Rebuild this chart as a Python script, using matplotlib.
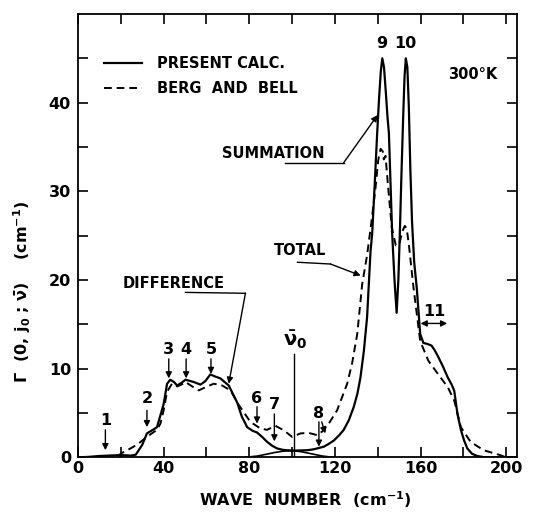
#!/usr/bin/env python3
"""Line-width function Gamma(0, j0; nu) vs wave number, 300 K."""

import matplotlib

matplotlib.use("Agg")
import matplotlib.pyplot as plt

# present calculation (solid)
calc_x = [0, 5, 10, 15, 20, 25, 27, 30, 32.2, 35, 36.9, 40.0, 41.6, 43.1, 44.8,
          46.3, 48.3, 50.2, 54.0, 57.2, 59.5, 61.8, 64.2, 66.5, 70.4, 74.3,
          76.5, 79.0, 81.5, 83.6, 86, 88.3, 90.7, 93.0, 95.5, 97.7, 100.8,
          104, 107, 109.5, 111.7, 114.8, 117, 119.5, 122, 124.1, 126.5, 128.8,
          130.5, 131.9, 133.5, 135.0,
          136.6, 137.4, 138.6, 139.7, 140.6, 141.4, 142.1, 142.9, 143.8, 144.5,
          145.2, 146.0, 146.7, 147.8, 148.8,
          149.6, 150.3, 151.0, 151.8, 152.5, 153.1, 153.8, 154.5, 155.2, 156.0,
          157.0, 158.2, 159.8, 161.3, 163.0, 165.1, 166.5, 168.1, 170.5, 172.7,
          174.5, 175.7, 177.2, 178.8, 180.3, 181.8, 184.0, 186.4, 190, 200]
calc_y = [0, 0.05, 0.15, 0.2, 0.25, 0.2, 0.3, 1.4, 2.7, 3.1, 3.4, 6.0, 8.3,
          8.75, 8.5, 8.1, 8.4, 8.75, 8.5, 8.2, 8.6, 9.35, 9.1, 8.9, 8.1, 6.2,
          4.6, 3.4, 3.0, 2.8, 2.3, 1.75, 1.3, 1.0, 0.85, 0.8, 0.75, 0.78, 0.8,
          0.88, 1.0, 1.2, 1.5, 1.9, 2.5, 3.1, 4.2, 5.7, 7.2, 9.0, 12.0, 15.8,
          23.2, 25.3, 31.0, 36.5, 40.5, 43.5, 45.0, 44.0, 41.0, 38.5,
          36.5, 30.5, 25.3, 20.0, 16.3,
          20.0, 25.3, 31.5, 38.0, 43.0, 45.0, 44.0, 39.5, 32.5, 26.5,
          22.0, 19.1, 13.9, 12.9, 12.8, 12.6, 12.1, 11.4, 10.2, 9.0,
          8.2, 7.5, 4.9, 3.1, 1.9, 1.0, 0.4, 0.15, 0, 0]

# Berg and Bell (dashed)
berg_x = [19.8, 19.8, 23, 26.0, 29, 32.2, 34.5, 36.9, 38.5, 40.0, 41.6, 43.9,
          46.3, 48.3, 50.2, 53.3, 56.4, 59.5, 63.4, 67.3, 71.2, 75.1, 80.5,
          85.2, 88.3, 92.2, 96.1, 100.0, 103.9, 107.8, 111.7, 114.0, 117.1,
          121.0, 125.7, 128, 130.4, 132.7, 135.0, 137.0, 138.9, 140.2, 141.3,
          142.3, 142.8, 143.6, 145.0, 146.5, 148.4, 150.0, 151.5, 152.6, 153.5,
          154.5, 156.7, 159.8, 163.6, 168.1, 172.7, 175.7, 178.8, 183.3, 189.4,
          197.0, 200]
berg_y = [0.0, 0.4, 0.8, 1.2, 1.7, 2.3, 2.7, 3.1, 3.8, 5.3, 7.4, 8.3, 8.0,
          8.2, 8.5, 8.0, 7.55, 7.9, 8.3, 8.1, 7.55, 5.9, 4.0, 3.25, 3.1, 3.55,
          3.05, 2.3, 2.7, 2.75, 2.5, 2.9, 3.8, 5.3, 8.3, 10.6, 13.9, 19.5, 22.8,
          26.5, 30.3, 33.5, 34.8, 34.5, 33.6, 34.0, 30.0, 26.0, 23.9, 24.0, 25.5,
          26.1, 25.8, 24.0, 19.1, 13.1, 10.9, 9.4, 7.9, 6.4, 3.4, 1.75, 0.8,
          0.26, 0]

# low component tails near nu_0 (thin solid)
sum_tail_x = [78, 84, 88, 92, 96, 100.8]
sum_tail_y = [0, 0.15, 0.35, 0.55, 0.7, 0.75]
diff_tail_x = [100.8, 105, 110, 114, 118, 120]
diff_tail_y = [0.75, 0.6, 0.35, 0.15, 0.03, 0]

NU0 = 100.8

# peak labels: (text, x, y text, arrow top, arrow tip)
peak_labels = [("1", 12.8, 4.2, 3.1, 0.8),
               ("2", 32.2, 6.6, 5.3, 3.4),
               ("3", 42.4, 12.2, 11.1, 8.9),
               ("4", 50.5, 12.2, 11.1, 8.9),
               ("5", 62.1, 12.2, 11.1, 9.4),
               ("6", 83.6, 6.6, 5.7, 3.8),
               ("7", 91.7, 6.0, 4.9, 1.8),
               ("8", 112.5, 4.9, 4.0, 1.2)]

FS = 10.5


def main() -> None:
    plt.rcParams["font.family"] = ["DejaVu Sans"]
    plt.rcParams["font.weight"] = "bold"
    plt.rcParams["mathtext.default"] = "bf"
    fig = plt.figure(figsize=(5.43, 5.12), dpi=100)
    ax = fig.add_axes([0.1436, 0.1068, 0.8085, 0.8659])

    ax.plot(calc_x, calc_y, "-", color="black", lw=1.6, label="PRESENT CALC.")
    ax.plot(berg_x, berg_y, color="black", lw=1.4, dashes=(4, 2.5),
            label="BERG  AND  BELL")
    ax.plot(sum_tail_x, sum_tail_y, "-", color="black", lw=1.2)
    ax.plot(diff_tail_x, diff_tail_y, "-", color="black", lw=1.2)

    ax.set_xlim(0, 205)
    ax.set_ylim(0, 50)
    ax.set_xticks(range(0, 201, 20))
    ax.set_xticklabels([str(v) if v % 40 == 0 else "" for v in range(0, 201, 20)])
    ax.set_yticks(range(0, 46, 5))
    ax.set_yticklabels([str(v) if v % 10 == 0 else "" for v in range(0, 46, 5)])
    ax.tick_params(direction="in", length=7.5, width=1.2, top=True, right=True,
                   labelsize=11.5)
    ax.tick_params(axis="y", pad=5)
    ax.tick_params(axis="x", pad=3)
    for s in ax.spines.values():
        s.set_linewidth(1.3)

    ax.legend(loc="upper left", bbox_to_anchor=(0.06, 0.905), frameon=False,
              handlelength=2.6, handletextpad=1.0, labelspacing=0.68,
              borderpad=0, borderaxespad=0, fontsize=FS)

    ax.text(172.6, 43.2, "300°K", fontsize=FS, ha="left", va="center")
    ax.text(141.6, 46.7, "9", fontsize=11.5, ha="center", va="center")
    ax.text(153.0, 46.7, "10", fontsize=11.5, ha="center", va="center")

    arrow = dict(arrowstyle="-|>", color="black", lw=1.0, mutation_scale=9,
                 shrinkA=0, shrinkB=0)

    # SUMMATION
    ax.text(91.3, 34.3, "SUMMATION", fontsize=FS, ha="center", va="center")
    ax.plot([96.9, 124.0], [33.2, 33.2], color="black", lw=1.0)
    ax.annotate("", xy=(139.9, 38.6), xytext=(124.0, 33.2), arrowprops=arrow)

    # TOTAL
    ax.text(103.9, 23.3, "TOTAL", fontsize=FS, ha="center", va="center")
    ax.plot([102.5, 117.9], [22.0, 21.8], color="black", lw=1.0)
    ax.annotate("", xy=(132.0, 20.5), xytext=(117.9, 21.8), arrowprops=arrow)

    # DIFFERENCE
    ax.text(44.5, 19.6, "DIFFERENCE", fontsize=FS, ha="center", va="center")
    ax.plot([50.2, 78.2], [18.6, 18.5], color="black", lw=1.0)
    ax.annotate("", xy=(70.4, 8.3), xytext=(78.2, 18.5), arrowprops=arrow)

    for txt, x, yt, ya, yb in peak_labels:
        ax.text(x, yt, txt, fontsize=11.5, ha="center", va="center")
        ax.annotate("", xy=(x, yb), xytext=(x, ya), arrowprops=arrow)
    ax.annotate("", xy=(115.5, 2.7), xytext=(113.8, 4.0), arrowprops=arrow)

    # 11 band
    ax.text(166.2, 16.5, "11", fontsize=11.5, ha="center", va="center")
    ax.annotate("", xy=(160.0, 15.1), xytext=(172.4, 15.1),
                arrowprops=dict(arrowstyle="<|-|>", color="black", lw=1.0,
                                mutation_scale=9, shrinkA=0, shrinkB=0))

    # nu_0 marker
    ax.plot([NU0, NU0], [0, 11.7], color="black", lw=1.0)
    ax.text(NU0 + 0.8, 13.3, r"$\bar{\nu}_0$", fontsize=14, ha="center",
            va="center")

    fig.text(305 / 543, 1 - 500 / 512, r"WAVE  NUMBER  (cm$^{-1}$)",
             fontsize=11.5, ha="center", va="center")
    fig.text(22 / 543, 1 - 292 / 512,
             r"$\Gamma$  (0, j$_0$ ; $\bar{\nu}$)    (cm$^{-1}$)",
             fontsize=11.5, ha="center", va="center", rotation=90)

    fig.savefig("out.png", dpi=100)


if __name__ == "__main__":
    main()
